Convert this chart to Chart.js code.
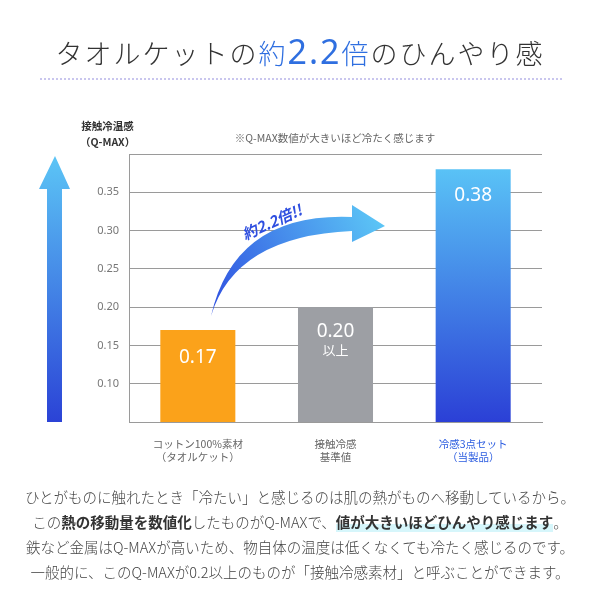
<!DOCTYPE html>
<html><head><meta charset="utf-8">
<script src="https://cdn.jsdelivr.net/npm/chart.js@4"></script>
<style>
body{margin:0;width:600px;height:600px;overflow:hidden;background:#fff;font-family:"Noto Sans CJK JP","Noto Sans",sans-serif;}
#wrap{position:absolute;left:0;top:0;width:600px;height:600px;}
.t{position:absolute;left:0;width:600px;text-align:center;color:#333;}
#title{top:28px;font-size:27px;letter-spacing:2px;font-weight:300;}
#title b{color:#2f6fe0;font-size:34px;font-weight:400;font-family:"Noto Sans",sans-serif;}
#title .k{color:#2f6fe0;}
#rule{position:absolute;left:40px;width:522px;top:78px;border-top:2px dotted #c9c6ee;}
.f{font-size:14.5px;color:#444;font-weight:300;}
.f b{font-weight:700;color:#333}
.hl{background:linear-gradient(transparent 60%,#d6f6fb 60%);}
#yt{position:absolute;left:80px;top:118px;font-size:10.5px;color:#333;line-height:16px;text-align:center;font-weight:700}
#note{position:absolute;left:150px;width:370px;top:130px;text-align:center;font-size:10.5px;color:#666;}
</style></head><body>
<div id="wrap"><canvas id="c" width="600" height="600"></canvas></div>
<div class="t" id="title">タオルケットの<span class="k">約</span><b>2.2</b><span class="k">倍</span>のひんやり感</div>
<div id="rule"></div>
<div id="yt">接触冷温感<br>（Q-MAX）</div>
<div id="note">※Q-MAX数値が大きいほど冷たく感じます</div>
<div class="t f" style="top:486px">ひとがものに触れたとき「冷たい」と感じるのは肌の熱がものへ移動しているから。</div>
<div class="t f" style="top:511px">この<b>熱の移動量を数値化</b>したものがQ-MAXで、<b class="hl">値が大きいほどひんやり感じます</b>。</div>
<div class="t f" style="top:536px">鉄など金属はQ-MAXが高いため、物自体の温度は低くなくても冷たく感じるのです。</div>
<div class="t f" style="top:561px">一般的に、このQ-MAXが0.2以上のものが「接触冷感素材」と呼ぶことができます。</div>
<script>
const categories=[["コットン100%素材","（タオルケット）"],["接触冷感","基準値"],["冷感3点セット","（当製品）"]];
const values=[0.17,0.20,0.38];
const valueLabels=[["0.17"],["0.20","以上"],["0.38"]];
const tickValues=[0.10,0.15,0.20,0.25,0.30,0.35];
const labelColors=["#666","#666","#2a5be0"];

const deco={id:'deco',
 afterDatasetsDraw(ch){
  const c=ch.ctx,a=ch.chartArea;
  const meta=ch.getDatasetMeta(0);
  c.save();
  c.fillStyle='#fff';c.textAlign='center';c.textBaseline='middle';
  meta.data.forEach((b,i)=>{
    const lines=valueLabels[i];
    const top=b.y+(i===0?27:(i===1?24:26));
    c.font='19px "Noto Sans",sans-serif';
    c.fillText(lines[0],b.x,top);
    if(lines[1]){c.font='13px "Noto Sans CJK JP"';c.fillText(lines[1],b.x,top+19);}
  });
  const g=c.createLinearGradient(0,a.top,0,a.bottom);
  g.addColorStop(0,'#5cc6f6');g.addColorStop(1,'#2b43d6');
  c.fillStyle=g;c.beginPath();
  c.moveTo(47,a.bottom);c.lineTo(47,189);c.lineTo(39,189);c.lineTo(55,156);c.lineTo(70,189);c.lineTo(62,189);c.lineTo(62,a.bottom);c.closePath();c.fill();
  const g2=c.createLinearGradient(211,315,385,226);
  g2.addColorStop(0,'#2f4fe0');g2.addColorStop(1,'#5cc6f6');
  c.fillStyle=g2;c.beginPath();
  c.moveTo(211,316);
  c.quadraticCurveTo(235,236,352,231);
  c.lineTo(352,242);c.lineTo(385,226);c.lineTo(352,205);c.lineTo(352,217);
  c.quadraticCurveTo(235,212,211,316);
  c.closePath();c.fill();
  c.translate(272,222);c.rotate(-0.42);
  c.fillStyle='#2f4fe0';c.font='italic bold 15px "Noto Sans CJK JP"';c.textAlign='center';
  c.fillText('約2.2倍!!',0,0);
  c.restore();
 }};

new Chart(document.getElementById('c'),{
 type:'bar',
 data:{labels:categories,datasets:[{data:values,
   backgroundColor:(ctx)=>{
     const i=ctx.dataIndex;
     if(i===0)return '#fba21a';
     if(i===1)return '#9d9fa4';
     const a=ctx.chart.chartArea;if(!a)return '#3f7fe6';
     const g=ctx.chart.ctx.createLinearGradient(0,a.top,0,a.bottom);
     g.addColorStop(0,'#5ccaf8');g.addColorStop(1,'#2b40d6');return g;},
   categoryPercentage:0.545,barPercentage:1}]},
 options:{responsive:false,animation:false,
  layout:{padding:{left:77,right:58,top:154,bottom:0}},
  plugins:{legend:{display:false},tooltip:{enabled:false}},
  scales:{
   y:{min:0.05,max:0.40,afterFit:s=>{s.width=52;},
      afterBuildTicks:s=>{s.ticks=[0.05,...tickValues,0.40].map(v=>({value:v}));},
      grid:{color:'#9a9a9a',lineWidth:1,drawTicks:false},border:{color:'#9a9a9a'},
      ticks:{padding:10,color:'#777',font:{size:11,family:'"Noto Sans",sans-serif'},
       callback:v=>tickValues.some(t=>Math.abs(t-v)<1e-6)?v.toFixed(2):''}},
   x:{afterFit:s=>{s.height=178;},grid:{display:false},border:{color:'#9a9a9a'},
      ticks:{padding:8,color:(ctx)=>labelColors[ctx.index],font:{size:10.5,family:'"Noto Sans CJK JP"'}}}
  }},
 plugins:[deco]});
</script>
</body></html>
